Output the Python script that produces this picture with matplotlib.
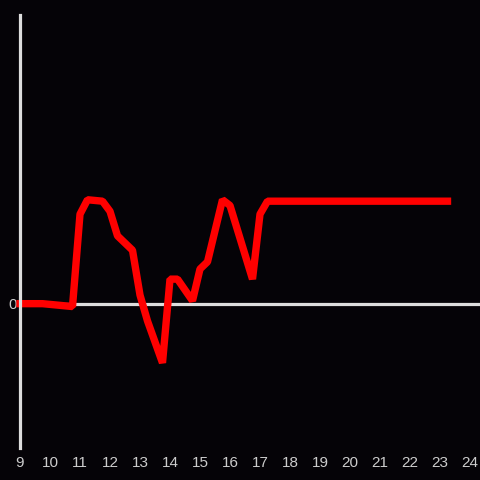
import matplotlib
matplotlib.use("Agg")
import matplotlib.pyplot as plt

hours = [9.0, 9.75, 10.75, 11.0, 11.25, 11.75, 12.0, 12.25, 12.75, 13.0, 13.25,
         13.75, 14.0, 14.25, 14.75, 15.0, 15.25, 15.75, 16.0, 16.75, 17.0, 17.25,
         17.75, 23.25]
values = [0.0, 0.0, -0.02, 0.62, 0.72, 0.71, 0.64, 0.47, 0.37, 0.06, -0.12,
          -0.41, 0.17, 0.17, 0.02, 0.24, 0.29, 0.72, 0.68, 0.17, 0.62, 0.71,
          0.71, 0.71]
xticks = list(range(9, 25))

bg = "#050307"
fig = plt.figure(figsize=(4.8, 4.8), dpi=100, facecolor=bg)
ax = fig.add_axes([20 / 480, 32 / 480, 460 / 480, 433 / 480])
ax.set_facecolor(bg)

ax.axhline(0, color="#dddddd", linewidth=2.3, zorder=1)
ax.plot(hours, values, color="#ff0000", linewidth=5.3,
        solid_capstyle="projecting", solid_joinstyle="bevel", zorder=2, clip_on=False)

ax.set_xlim(9, 9 + 460 / 30)
ax.set_ylim(-1, 2)
ax.set_xticks(xticks)
ax.set_yticks([0])
ax.set_yticklabels(["0"])

for s in ["top", "right", "bottom"]:
  ax.spines[s].set_visible(False)
ax.spines["left"].set_color("#dddddd")
ax.spines["left"].set_linewidth(2.3)

ax.tick_params(length=0, colors="#cccccc", labelsize=11)
for lbl in ax.get_xticklabels() + ax.get_yticklabels():
  lbl.set_family("Liberation Sans")
ax.tick_params(axis="x", pad=6)
ax.tick_params(axis="y", pad=2)

fig.savefig("out.png", dpi=100, facecolor=bg)
